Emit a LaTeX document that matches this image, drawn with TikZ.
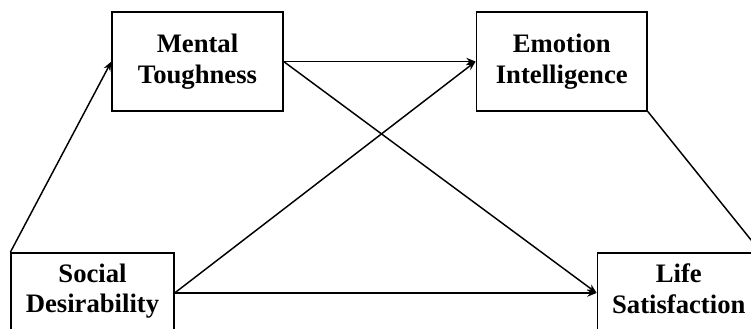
\documentclass[tikz,border=0pt]{standalone}
\usepackage{fontspec}
\setmainfont{Liberation Serif}
\usepackage{tikz}
\usetikzlibrary{positioning, arrows.meta}
\newcommand{\boxfont}{\fontsize{20pt}{23pt}\selectfont}
\tikzset{
  % construct box
  var/.style={
    rectangle, draw=black, line width=1.2pt, fill=white,
    minimum width=128pt, minimum height=74pt,
    font=\boxfont\bfseries, align=center, text=black
  },
  % lower boxes (cut off at the bottom)
  lowvar/.style={var, minimum width=122pt, minimum height=60pt,
    execute at end node=\strut},
  % path arrow
  arr/.style={-{Stealth[length=7pt, width=5.5pt]}, line width=1.1pt},
}
\begin{document}
\begin{tikzpicture}[x=0.75pt, y=-0.75pt]
  \clip (0,0) rectangle (751,329);
  \node[var] (mt) at (197.5,61.5) {Mental\\Toughness};
  \node[var, right=144pt of mt] (ei) {Emotion\\Intelligence};
  \node[lowvar] (sd) at (92.5,293) {Social\\Desirability};
  \node[lowvar, right=316.5pt of sd] (ls) {Life\\Satisfaction};
  \draw[arr] (sd.north west) -- (mt.west);
  \draw[arr] (mt) -- (ei);
  \draw[arr] (mt.east) -- (ls.west);
  \draw[arr] (sd.east) -- (ei.west);
  \draw[arr] (sd) -- (ls);
  \draw[arr] (ei.south east) -- (ls.north east);
\end{tikzpicture}
\end{document}
